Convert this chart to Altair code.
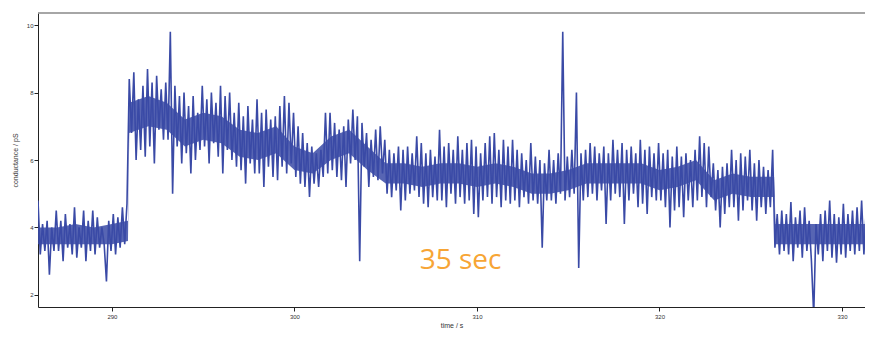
import altair as alt
import pandas as pd

# sampling: one reading every 0.125 s starting at 285.95 s
t0 = 285.95
dt = 0.125

# conductance readings (pS), 8 per second
g_vals = [
    4.8, 3.2, 4.1, 3.3, 4.2, 2.6, 4.0, 3.3,
    4.5, 3.3, 4.2, 3.0, 4.4, 3.4, 4.1, 3.2,
    4.6, 3.1, 4.0, 3.4, 4.5, 3.0, 4.2, 3.3,
    4.5, 3.2, 4.3, 3.4, 4.0, 3.5, 2.4, 4.2,
    3.3, 4.4, 3.2, 4.3, 3.4, 4.6, 3.5, 4.7,
    8.4, 6.8, 8.6, 6.0, 7.8, 6.3, 8.2, 6.1,
    8.7, 6.4, 8.3, 5.9, 8.5, 6.9, 8.1, 6.6,
    8.3, 6.6, 9.8, 5.0, 8.2, 6.4, 7.9, 5.9,
    8.0, 6.2, 7.6, 5.6, 7.9, 6.0, 7.4, 6.3,
    8.2, 6.4, 7.8, 5.9, 8.0, 6.5, 7.7, 6.1,
    8.2, 5.6, 7.9, 6.3, 8.0, 6.0, 7.4, 5.8,
    7.7, 5.7, 7.3, 5.3, 7.6, 5.9, 7.2, 5.6,
    7.8, 5.6, 7.4, 5.2, 7.5, 5.8, 7.2, 5.5,
    7.3, 5.4, 7.6, 5.8, 7.9, 5.6, 7.7, 5.9,
    7.4, 5.5, 7.0, 5.3, 6.8, 5.2, 6.5, 4.9,
    6.4, 5.3, 6.2, 5.2, 6.3, 5.5, 7.4, 5.6,
    7.4, 5.7, 7.1, 5.5, 6.9, 5.4, 7.0, 5.2,
    7.2, 5.9, 7.5, 6.0, 7.3, 3.0, 7.1, 5.8,
    6.8, 5.2, 6.6, 5.5, 6.9, 5.4, 7.0, 5.6,
    6.6, 5.0, 6.3, 4.9, 6.2, 5.1, 6.4, 4.5,
    6.3, 4.8, 6.4, 5.0, 6.2, 5.1, 6.7, 4.9,
    6.5, 4.7, 6.2, 4.6, 6.3, 4.9, 6.1, 4.8,
    6.9, 4.8, 6.4, 4.6, 6.5, 5.0, 6.3, 4.7,
    6.7, 4.9, 6.3, 4.7, 6.5, 4.8, 6.6, 4.4,
    6.4, 4.3, 6.2, 4.8, 6.5, 4.9, 6.7, 4.7,
    6.8, 4.9, 6.3, 4.6, 6.6, 4.8, 6.4, 4.7,
    6.6, 4.8, 6.3, 4.6, 6.2, 4.9, 6.0, 4.7,
    6.5, 4.8, 6.1, 4.7, 6.0, 3.4, 5.9, 4.8,
    6.3, 4.8, 6.0, 4.7, 6.2, 5.0, 9.8, 4.8,
    6.1, 4.9, 6.3, 5.0, 8.0, 2.8, 6.2, 4.8,
    6.3, 4.9, 6.5, 5.0, 6.4, 4.8, 6.2, 5.1,
    6.4, 4.1, 6.2, 4.8, 6.6, 5.0, 6.3, 4.9,
    6.5, 4.1, 6.3, 4.8, 6.4, 5.0, 6.2, 4.6,
    6.6, 4.7, 6.3, 4.4, 6.4, 4.9, 6.2, 4.8,
    6.5, 4.8, 6.2, 4.6, 6.3, 4.0, 6.1, 4.5,
    6.4, 4.6, 6.1, 4.3, 6.2, 4.8, 6.0, 4.6,
    6.3, 4.8, 6.7, 4.9, 6.5, 4.6, 6.4, 4.9,
    5.9, 4.5, 5.7, 4.0, 5.8, 4.4, 5.9, 4.6,
    6.3, 4.6, 6.0, 4.2, 6.2, 4.5, 6.1, 4.8,
    6.3, 4.5, 5.9, 4.2, 6.0, 4.6, 5.8, 4.4,
    5.7, 4.6, 6.3, 3.4, 4.4, 3.2, 4.5, 3.3,
    4.4, 3.2, 4.75, 3.0, 4.3, 3.4, 4.5, 3.1,
    4.6, 3.3, 4.2, 3.0, 1.4, 4.1, 3.2, 4.4,
    3.0, 4.5, 3.3, 4.8, 3.1, 4.4, 2.95, 4.3,
    3.2, 4.7, 3.1, 4.4, 3.3, 4.5, 3.2, 4.6,
    3.3, 4.8, 3.2, 4.5, 3.4, 4.6, 3.3,
]

# dense core of the noise band (where the trace is solid), read per second
core_t = [285.95, 287, 288, 289, 290, 290.88,
          290.95, 292, 293, 294, 295, 296, 297, 298, 299, 300, 301, 302,
          303, 304, 305, 306, 307, 308, 309, 310, 311, 312, 313, 314, 315,
          316, 317, 318, 319, 320, 321, 322, 323, 324, 325, 326.28,
          326.36, 327, 328, 329, 330, 331.3]
core_lo = [3.5, 3.5, 3.5, 3.5, 3.5, 3.6,
           6.8, 7.0, 6.9, 6.4, 6.6, 6.5, 6.1, 6.0, 6.2, 5.7, 5.6, 6.0,
           6.2, 5.7, 5.3, 5.3, 5.2, 5.3, 5.3, 5.2, 5.3, 5.2, 5.0, 5.0, 5.1,
           5.3, 5.3, 5.3, 5.3, 5.1, 5.2, 5.4, 4.8, 5.0, 4.9, 4.9,
           3.5, 3.5, 3.5, 3.5, 3.5, 3.5]
core_hi = [4.0, 4.0, 4.1, 4.0, 4.1, 4.2,
           7.7, 7.9, 7.7, 7.2, 7.4, 7.3, 6.9, 6.8, 7.0, 6.4, 6.2, 6.7,
           6.9, 6.4, 5.9, 5.9, 5.8, 5.9, 5.9, 5.8, 5.9, 5.8, 5.6, 5.6, 5.7,
           5.9, 5.9, 5.9, 5.9, 5.7, 5.8, 6.0, 5.4, 5.6, 5.5, 5.5,
           4.1, 4.1, 4.1, 4.1, 4.1, 4.1]

x_ticks = [290, 300, 310, 320, 330]
y_ticks = [2, 3, 4, 5, 6, 7, 8, 9, 10]
x_domain = [285.95, 331.26]
y_domain = [1.64, 10.36]

note_text = ["35 sec"]
note_x = [309.1]
note_y = [3.0]

df = pd.DataFrame({
    "time": [t0 + i * dt for i in range(len(g_vals))],
    "g": g_vals,
})
core = pd.DataFrame({"time": core_t, "lo": core_lo, "hi": core_hi})
notes = pd.DataFrame({"x": note_x, "y": note_y, "label": note_text})

xs = alt.Scale(domain=x_domain, nice=False, zero=False)
ys = alt.Scale(domain=y_domain, nice=False, zero=False)

x_enc = alt.X(
    "time:Q", scale=xs,
    axis=alt.Axis(values=x_ticks, title="time / s", grid=False,
                  labelFontSize=6, titleFontSize=7, titleFontWeight="normal",
                  tickSize=4, labelPadding=2, titlePadding=2,
                  domainColor="#222", tickColor="#222",
                  labelColor="#333", titleColor="#333"),
)
y_enc = alt.Y(
    "g:Q", scale=ys,
    axis=alt.Axis(values=y_ticks, title="conductance / pS", grid=False,
                  labelFontSize=6, titleFontSize=7, titleFontWeight="normal",
                  tickSize=4, labelPadding=1, titlePadding=8,
                  domainColor="#222", tickColor="#222",
                  labelColor="#333", titleColor="#333"),
)

band = alt.Chart(core).mark_area(
    color="#3a4aa6", opacity=0.85, clip=True
).encode(
    x=alt.X("time:Q", scale=xs),
    y=alt.Y("lo:Q", scale=ys),
    y2="hi:Q",
)

trace = alt.Chart(df).mark_line(
    color="#3a4aa6", strokeWidth=1.6, clip=True
).encode(x=x_enc, y=y_enc)

label = alt.Chart(notes).mark_text(
    color="#f7a535", fontSize=28, font="Open Sans",
    align="center", baseline="middle"
).encode(
    x=alt.X("x:Q", scale=xs),
    y=alt.Y("y:Q", scale=ys),
    text="label:N",
)

top_border = alt.Chart(notes).mark_rule(color="#888", strokeWidth=1.5).encode(
    x=alt.value(0), x2=alt.value(827), y=alt.value(0)
)

chart = alt.layer(band, trace, label, top_border).properties(
    width=827,
    height=294,
    autosize=alt.AutoSizeParams(type="none"),
    padding={"left": 30, "top": 5, "right": 0, "bottom": 22},
).configure_view(
    stroke=None
).configure_axis(
    labelFont="Liberation Sans", titleFont="Liberation Sans"
)

chart.save("out.html", embed_options={"renderer": "svg", "actions": False})
